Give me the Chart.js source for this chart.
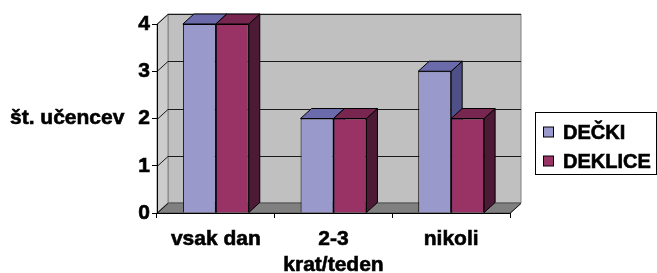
<!DOCTYPE html>
<html>
<head>
<meta charset="utf-8">
<script src="https://cdn.jsdelivr.net/npm/chart.js@4"></script>
<style>
  html, body { margin: 0; padding: 0; background: #fff; }
</style>
</head>
<body>
<canvas id="chart" width="657" height="273"></canvas>
<script>
// values
const categories = ['vsak dan', ['2-3', 'krat/teden'], 'nikoli'];
const decki = [4, 2, 3];
const deklice = [4, 2, 2];
const yTicks = [0, 1, 2, 3, 4];
const axisTitle = 'št. učencev';

// 3d depth of the excel style bars
const DX = 11, DY = 10;
const FONT = 'Arial, "Liberation Sans", sans-serif';
const FSIZE = 21;

const shades = {
    'DEČKI': { top: '#6b6bab', side: '#505088' },
    'DEKLICE': { top: '#772650', side: '#4c1a34' }
};

Chart.defaults.font.family = FONT;

function poly(ctx, pts, fill, stroke) {
    ctx.beginPath();
    ctx.moveTo(pts[0][0], pts[0][1]);
    for (let i = 1; i < pts.length; i++) ctx.lineTo(pts[i][0], pts[i][1]);
    ctx.closePath();
    if (fill) { ctx.fillStyle = fill; ctx.fill(); }
    if (stroke) { ctx.strokeStyle = stroke; ctx.lineWidth = 1; ctx.stroke(); }
}

function heavyText(ctx, txt, x, y) {
    ctx.lineWidth = 0.6;
    ctx.strokeStyle = '#000';
    ctx.strokeText(txt, x, y);
    ctx.fillStyle = '#000';
    ctx.fillText(txt, x, y);
}

const walls3d = {
    id: 'walls3d',
    beforeDraw(chart) {
        const { ctx, chartArea: a, scales } = chart;
        const L = a.left, R = a.right, T = a.top, B = a.bottom;
        ctx.save();
        // back wall
        poly(ctx, [[L + DX, T - DY], [R + DX, T - DY], [R + DX, B - DY], [L + DX, B - DY]], '#c0c0c0', '#808080');
        // left wall
        poly(ctx, [[L, T], [L + DX, T - DY], [L + DX, B - DY], [L, B]], '#cccccc', '#808080');
        // floor
        poly(ctx, [[L, B], [R, B], [R + DX, B - DY], [L + DX, B - DY]], '#808080', '#505050');
        // gridlines along left wall and back wall
        ctx.strokeStyle = '#1a1a1a';
        ctx.lineWidth = 1;
        yTicks.forEach(v => {
            if (v === 0) return;
            const y = Math.round(scales.y.getPixelForValue(v)) + 0.5;
            ctx.beginPath();
            ctx.moveTo(L, y);
            ctx.lineTo(L + DX, y - DY);
            ctx.lineTo(R + DX, y - DY);
            ctx.stroke();
        });
        ctx.beginPath();
        ctx.moveTo(L, B + 0.5);
        ctx.lineTo(L + DX, B - DY + 0.5);
        ctx.moveTo(R, B + 0.5);
        ctx.lineTo(R + DX, B - DY + 0.5);
        ctx.stroke();
        ctx.restore();
    },
    beforeDatasetsDraw(chart) {
        const ctx = chart.ctx;
        ctx.save();
        ctx.lineJoin = 'round';
        const n = chart.data.labels.length;
        for (let i = 0; i < n; i++) {
            chart.data.datasets.forEach((ds, di) => {
                const bar = chart.getDatasetMeta(di).data[i];
                const p = bar.getProps(['x', 'y', 'base', 'width'], true);
                const l = p.x - p.width / 2, r = p.x + p.width / 2;
                const sh = shades[ds.label];
                poly(ctx, [[r, p.y], [r + DX, p.y - DY], [r + DX, p.base - DY], [r, p.base]], sh.side, '#000');
                poly(ctx, [[l, p.y], [r, p.y], [r + DX, p.y - DY], [l + DX, p.y - DY]], sh.top, '#000');
            });
        }
        ctx.restore();
    },
    afterDraw(chart) {
        const { ctx, scales } = chart;
        ctx.save();
        ctx.font = 'bold ' + FSIZE + 'px ' + FONT;
        ctx.textBaseline = 'middle';
        ctx.textAlign = 'left';
        heavyText(ctx, axisTitle, 10, scales.y.getPixelForValue(2));

        // legend box
        const bx = 535.5, by = 112.5, bw = 121, bh = 62;
        ctx.fillStyle = '#fff';
        ctx.fillRect(bx, by, bw, bh);
        ctx.strokeStyle = '#000';
        ctx.lineWidth = 1;
        ctx.strokeRect(bx, by, bw, bh);
        ctx.font = 'bold 20px ' + FONT;
        chart.data.datasets.forEach((ds, di) => {
            const cy = 132 + di * 29;
            ctx.fillStyle = ds.backgroundColor;
            ctx.fillRect(543.5, cy - 5, 10, 10);
            ctx.lineWidth = 1;
            ctx.strokeStyle = '#000';
            ctx.strokeRect(543.5, cy - 5, 10, 10);
            heavyText(ctx, ds.label, 563, cy + 1);
        });
        ctx.restore();
    }
};

const tickFont = { size: FSIZE, weight: 'bold', lineHeight: 1.2 };

new Chart(document.getElementById('chart'), {
    type: 'bar',
    data: {
        labels: categories,
        datasets: [
            { label: 'DEČKI', data: decki, backgroundColor: '#9999cc', borderColor: '#000', borderWidth: 1 },
            { label: 'DEKLICE', data: deklice, backgroundColor: '#993366', borderColor: '#000', borderWidth: 1 }
        ]
    },
    options: {
        responsive: false,
        animation: false,
        devicePixelRatio: 1,
        layout: { padding: { left: 0, right: 147, top: 24, bottom: 0 } },
        datasets: { bar: { categoryPercentage: 0.56, barPercentage: 1.0 } },
        plugins: { legend: { display: false }, tooltip: { enabled: false } },
        scales: {
            x: {
                grid: { offset: true, drawOnChartArea: false, drawTicks: true, tickLength: 5, color: '#000' },
                border: { color: '#000' },
                ticks: {
                    color: '#000', font: tickFont, padding: 9, maxRotation: 0,
                    textStrokeColor: '#000', textStrokeWidth: 0.6
                },
                afterFit(s) { s.height = 60; }
            },
            y: {
                min: 0,
                max: 4,
                grid: { drawOnChartArea: false, drawTicks: true, tickLength: 5, color: '#000' },
                border: { color: '#000' },
                ticks: {
                    stepSize: 1, color: '#000', font: { size: FSIZE, weight: 'bold' }, padding: 2,
                    textStrokeColor: '#000', textStrokeWidth: 0.6
                },
                afterFit(s) { s.width = 157; }
            }
        }
    },
    plugins: [walls3d]
});
</script>
</body>
</html>
